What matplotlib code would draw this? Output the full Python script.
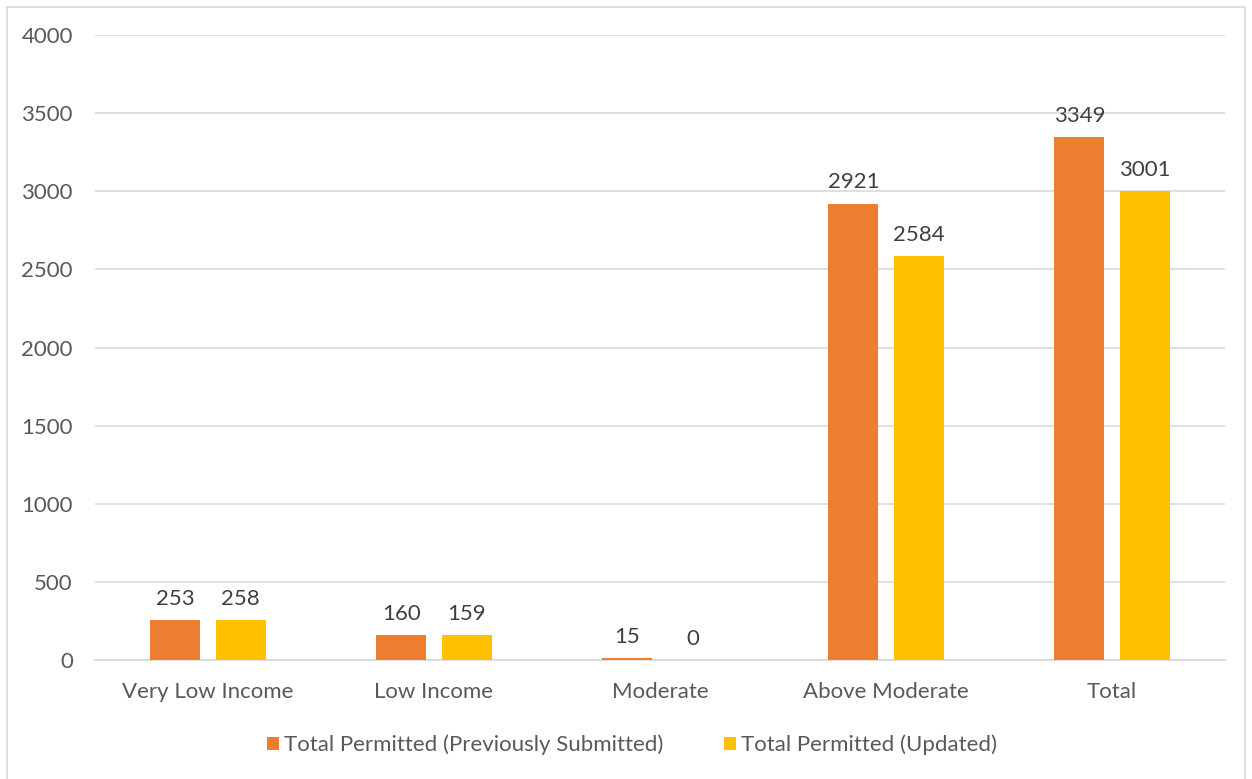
import numpy as np
import matplotlib.pyplot as plt
from matplotlib.patches import Rectangle

# datos del grafico
categorias = ['Very Low Income', 'Low Income', 'Moderate', 'Above Moderate', 'Total']
previo = [253, 160, 15, 2921, 3349]
actualizado = [258, 159, 0, 2584, 3001]
etiquetas = ['Total Permitted (Previously Submitted)', 'Total Permitted (Updated)']

plt.rcParams['font.family'] = ['Lato', 'DejaVu Sans']
gris = '#595959'

fig = plt.figure(figsize=(12.52, 7.79), dpi=100)
ax = fig.add_axes([95/1252, 1 - 660/779, 1130/1252, 625/779])

# borde del area del grafico
fig.patches.append(Rectangle((7/1252, -0.01), 1238/1252, 1 - 7/779 + 0.01,
                             transform=fig.transFigure, fill=False,
                             edgecolor='#d9d9d9', linewidth=1.2))

x = np.arange(len(categorias))
ancho = 0.221
desp = 0.144
b1 = ax.bar(x - desp, previo, ancho, color='#ED7D31', label=etiquetas[0], zorder=3)
b2 = ax.bar(x + desp, actualizado, ancho, color='#FFC000', label=etiquetas[1], zorder=3)

for barras in (b1, b2):
    ax.bar_label(barras, padding=8, fontsize=16, color='#404040')

ax.set_xlim(-0.5, len(categorias) - 0.5)
ax.set_ylim(0, 4000)
ax.set_yticks(np.arange(0, 4001, 500))
ax.set_xticks(x)
ax.set_xticklabels(categorias)
ax.yaxis.grid(True, color='#d9d9d9', linewidth=1.2, zorder=0)
ax.tick_params(axis='both', length=0, labelsize=16, labelcolor=gris)
ax.tick_params(axis='x', pad=16)
ax.tick_params(axis='y', pad=16)
for s in ['top', 'right', 'left']:
    ax.spines[s].set_visible(False)
ax.spines['bottom'].set_color('#d9d9d9')
ax.spines['bottom'].set_linewidth(1.2)

ax.legend(loc='center', bbox_to_anchor=(632/1252, 1 - 745/779), bbox_transform=fig.transFigure,
          ncol=2, frameon=False, fontsize=16, labelcolor=gris,
          handlelength=0.55, handleheight=0.55, handletextpad=0.25, columnspacing=2.7)

plt.savefig('out.png', dpi=100)
